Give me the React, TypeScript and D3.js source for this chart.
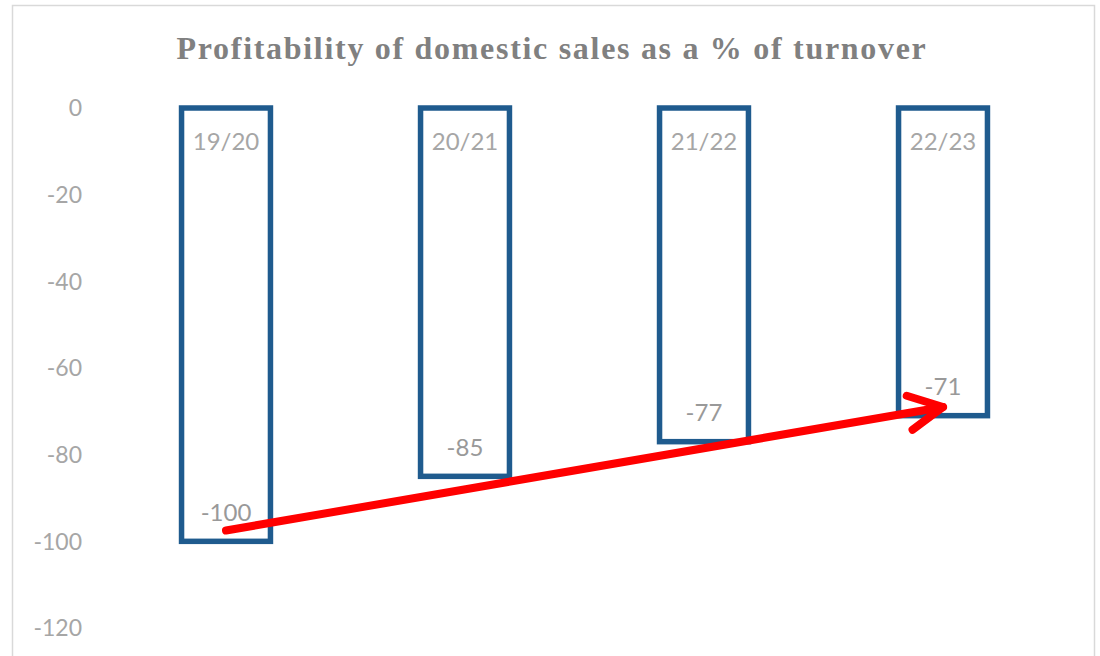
import React from "react";
import * as d3 from "d3";

const categories = ["19/20", "20/21", "21/22", "22/23"];
const values = [-100, -85, -77, -71];
const yTicks = [0, -20, -40, -60, -80, -100, -120];
const title = "Profitability  of domestic sales as a % of turnover";
// trend arrow annotation in data units: [category index, value]
const arrowStart: [number, number] = [0, -97.5];
const arrowEnd: [number, number] = [3, -69];

const W = 1100;
const H = 656;

export default function App() {
  const x = d3
    .scaleBand<string>()
    .domain(categories)
    .range([106.5, 1062.5])
    .paddingInner(0.628)
    .paddingOuter(0.314);
  const y = d3.scaleLinear().domain([-120, 0]).range([628, 108]);
  const cx = (i: number) => (x(categories[i]) as number) + x.bandwidth() / 2;

  const ax1 = cx(arrowStart[0]);
  const ay1 = y(arrowStart[1]);
  const ax2 = cx(arrowEnd[0]);
  const ay2 = y(arrowEnd[1]);
  const ang = Math.atan2(ay2 - ay1, ax2 - ax1);
  const headLen = 38;
  const headAng = (27 * Math.PI) / 180;
  const h1x = ax2 - headLen * Math.cos(ang - headAng);
  const h1y = ay2 - headLen * Math.sin(ang - headAng);
  const h2x = ax2 - headLen * Math.cos(ang + headAng);
  const h2y = ay2 - headLen * Math.sin(ang + headAng);

  return (
    <svg
      width={W}
      height={H}
      style={{ position: "absolute", left: 0, top: 0, background: "#fff" }}
    >
      <rect x={0} y={0} width={W} height={H} fill="#fff" />
      <rect
        x={12.5}
        y={5.5}
        width={1082}
        height={680}
        fill="none"
        stroke="#d9d9d9"
        strokeWidth={1.5}
      />
      <text
        x={552}
        y={59}
        textAnchor="middle"
        fontFamily="'Liberation Serif', 'Times New Roman', serif"
        fontWeight="bold"
        fontSize={32}
        letterSpacing={1.7}
        fill="#808080"
      >
        {title}
      </text>
      {yTicks.map((t) => (
        <text
          key={t}
          x={82}
          y={y(t)}
          dy="0.36em"
          textAnchor="end"
          fontFamily="Lato, sans-serif"
          fontSize={23}
          fill="#a6a6a6"
        >
          {t}
        </text>
      ))}
      {categories.map((c, i) => {
        const v = values[i];
        const bx = x(c) as number;
        const top = y(0);
        const bottom = y(v);
        return (
          <g key={c}>
            <rect
              x={bx}
              y={top}
              width={x.bandwidth()}
              height={bottom - top}
              fill="#fff"
              stroke="#1f5b8e"
              strokeWidth={5.5}
            />
            <text
              x={cx(i)}
              y={141}
              dy="0.36em"
              textAnchor="middle"
              fontFamily="Lato, sans-serif"
              fontSize={24}
              fill="#a6a6a6"
            >
              {c}
            </text>
            <text
              x={cx(i)}
              y={bottom - 29}
              dy="0.36em"
              textAnchor="middle"
              fontFamily="Lato, sans-serif"
              fontSize={24}
              fill="#999999"
            >
              {v}
            </text>
          </g>
        );
      })}
      <g stroke="#ff0000" strokeWidth={8} strokeLinecap="round" fill="none">
        <line x1={ax1} y1={ay1} x2={ax2} y2={ay2} />
        <polyline
          points={`${h1x},${h1y} ${ax2},${ay2} ${h2x},${h2y}`}
          strokeLinejoin="round"
        />
      </g>
    </svg>
  );
}
